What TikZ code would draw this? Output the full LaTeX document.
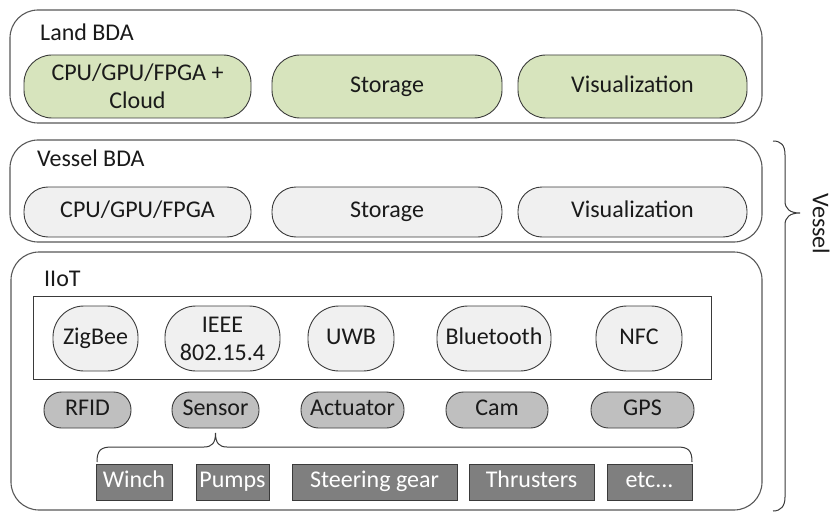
\documentclass[tikz,border=0pt]{standalone}
\usepackage{fontspec}
\setmainfont{Carlito}
\definecolor{lineC}{HTML}{3A3A3A}
\definecolor{greenF}{HTML}{D7E4BD}
\definecolor{lightF}{HTML}{F0F0F0}
\definecolor{midF}{HTML}{BFBFBF}
\definecolor{darkF}{HTML}{7F7F7F}
\definecolor{textC}{HTML}{1A1A1A}
\begin{document}
\begin{tikzpicture}[x=1pt,y=-1pt,
  every node/.style={font=\fontsize{24}{28}\selectfont, inner sep=0pt, align=center, text=textC},
  one/.style={text height=16.5pt, text depth=5pt},
  outerbox/.style={draw=lineC!85, line width=1.1pt, rounded corners=28pt},
  greenpill/.style={draw=lineC, line width=0.9pt, fill=greenF, rounded corners=28pt, minimum height=63pt},
  greypill/.style={draw=lineC, line width=0.9pt, fill=lightF, rounded corners=24pt, minimum height=50pt},
  bubble/.style={draw=lineC, line width=0.9pt, fill=lightF, rounded corners=31pt, minimum height=65pt},
  smallpill/.style={draw=lineC, line width=0.9pt, fill=midF, rounded corners=17.5pt, minimum height=36pt, one},
  darkbox/.style={draw=lineC, line width=0.9pt, fill=darkF, text=white, minimum height=36pt, one},
  layerlabel/.style={anchor=west, one},
  bracestyle/.style={draw=lineC, line width=1pt}
]
\fill[white] (0,0) rectangle (834,513);
\useasboundingbox (0,0) rectangle (834,513);

% Land BDA
\node[outerbox, minimum width=752pt, minimum height=113pt] (land) at (386,66.5) {};
\node[layerlabel] (landlbl) at (40,35) {Land BDA};
\node[greenpill, minimum width=227pt] (lcpu) at (137.5,86.5) {CPU/GPU/FPGA +\\Cloud};
\node[greenpill, one, minimum width=230pt] (lsto) at (387,86.5) {Storage};
\node[greenpill, one, minimum width=229pt] (lvis) at (632.5,86.5) {Visualization};

% Vessel BDA
\node[outerbox, minimum width=752pt, minimum height=102pt] (vessel) at (386,191) {};
\node[layerlabel] (vessellbl) at (37,161) {Vessel BDA};
\node[greypill, one, minimum width=227pt] (vcpu) at (137.5,212) {CPU/GPU/FPGA};
\node[greypill, one, minimum width=230pt] (vsto) at (387,212) {Storage};
\node[greypill, one, minimum width=229pt] (vvis) at (632.5,212) {Visualization};

% IIoT
\node[outerbox, minimum width=751pt, minimum height=258pt] (iiot) at (386.5,381) {};
\node[layerlabel] (iiotlbl) at (44,281) {IIoT};
\node[draw=lineC, line width=1pt, minimum width=678pt, minimum height=83pt] (net) at (372,337.5) {};
\node[bubble, one, minimum width=85pt] (zig) at (95.5,338.5) {ZigBee};
\node[bubble, minimum width=115pt] (ieee) at (222.5,338.5) {IEEE\\802.15.4};
\node[bubble, one, minimum width=86pt] (uwb) at (351,338.5) {UWB};
\node[bubble, one, minimum width=114pt] (bt) at (494,338.5) {Bluetooth};
\node[bubble, one, minimum width=86pt] (nfc) at (639,338.5) {NFC};

\node[smallpill, minimum width=87pt] (rfid) at (87.5,410) {RFID};
\node[smallpill, minimum width=87pt] (sensor) at (215.5,410) {Sensor};
\node[smallpill, minimum width=103pt] (act) at (352.5,410) {Actuator};
\node[smallpill, minimum width=102pt] (cam) at (497,410) {Cam};
\node[smallpill, minimum width=103pt] (gps) at (642.5,410) {GPS};

\node[darkbox, minimum width=76pt] (winch) at (134,482) {Winch};
\node[darkbox, minimum width=73pt] (pumps) at (232.5,482) {Pumps};
\node[darkbox, minimum width=165pt] (steer) at (374.5,482) {Steering gear};
\node[darkbox, minimum width=125pt] (thr) at (531.5,482) {Thrusters};
\node[darkbox, minimum width=85pt] (etc) at (649.5,482) {etc...};

% brace under Sensor
\coordinate (bl) at (97,462);
\coordinate (br) at (692,462);
\coordinate (tip) at (215.5,433);
\draw[bracestyle] (bl) .. controls (97,450) and (101,447) .. (112,447) -- (204,447)
  .. controls (212,447) and (215.5,443) .. (tip)
  .. controls (215.5,443) and (219,447) .. (227,447) -- (677,447)
  .. controls (688,447) and (692,450) .. (br);

% Vessel brace
\coordinate (vtop) at (773,141);
\coordinate (vtip) at (800,213);
\coordinate (vbot) at (773,511);
\draw[bracestyle] (vtop) .. controls (781,141) and (785,145) .. (785,155) -- (785,201)
  .. controls (785,209) and (790,213) .. (vtip)
  .. controls (790,213) and (785,217) .. (785,225) -- (785,497)
  .. controls (785,506) and (781,511) .. (vbot);
\node[rotate=-90] (vessellabel) at (821,224) {Vessel};
\end{tikzpicture}
\end{document}
